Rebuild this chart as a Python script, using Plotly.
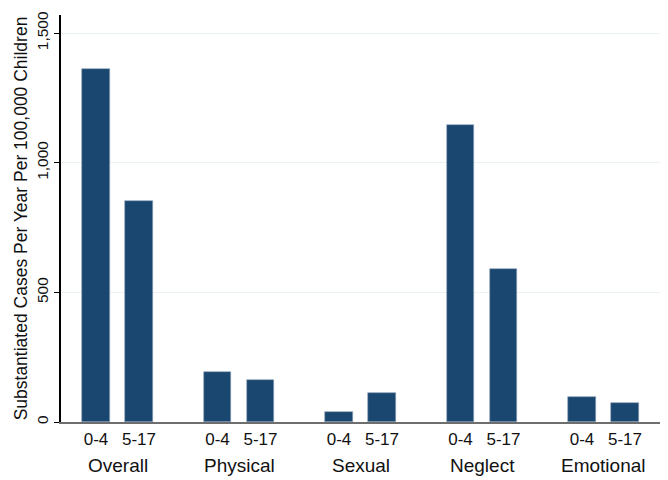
import plotly.graph_objects as go

groups = ["Overall", "Physical", "Sexual", "Neglect", "Emotional"]
ages = ["0-4", "5-17"]
age_0_4 = [1361, 191, 37, 1145, 95]
age_5_17 = [852, 162, 113, 590, 74]
y_ticks = [0, 500, 1000, 1500]
y_tick_labels = ["0", "500", "1,000", "1,500"]

GAP = 2.825  # spacing between groups in units of within-group spacing
navy = "#1a476f"

xs, ys, labels = [], [], []
for i, g in enumerate(groups):
    for j, vals in enumerate([age_0_4, age_5_17]):
        xs.append(i * GAP + j)
        ys.append(vals[i])
        labels.append(ages[j])

fig = go.Figure()
fig.add_trace(go.Bar(
    x=xs, y=ys, width=0.65,
    marker=dict(color=navy, line=dict(color="#8ea3b8", width=0.6)),
    showlegend=False,
))

for i, g in enumerate(groups):
    fig.add_annotation(x=i * GAP + 0.5, y=0, xref="x", yref="y",
                       yshift=-43, text=g, showarrow=False,
                       font=dict(size=19, color="#111"), yanchor="middle")

# page body has an 8px margin, so figure is sized to fill the rest of the window
fig.update_layout(
    width=660, height=472,
    margin=dict(l=53, r=3, t=7, b=58, autoexpand=False),
    paper_bgcolor="white", plot_bgcolor="white",
    font=dict(family="Liberation Sans, Arial, sans-serif", color="#111"),
    bargap=0,
)
fig.update_xaxes(
    range=[-0.814, 13.23],
    tickvals=xs, ticktext=labels,
    tickfont=dict(size=17),
    showgrid=False, zeroline=False,
    showline=True, linecolor="#6e6e6e", linewidth=2,
    ticks="", ticklabelstandoff=1, automargin=False,
)
fig.update_yaxes(
    range=[0, 1570],
    tickvals=y_ticks, ticktext=y_tick_labels,
    tickangle=-90, tickfont=dict(size=15.5),
    showgrid=True, gridcolor="#eaf2f3", gridwidth=1,
    zeroline=False, automargin=False,
    showline=True, linecolor="#000", linewidth=1.5,
    ticks="outside", ticklen=5, tickcolor="#000",
    title=dict(text="Substantiated Cases Per Year Per 100,000 Children",
               font=dict(size=17.5), standoff=2),
)
fig.write_html("out.html")
